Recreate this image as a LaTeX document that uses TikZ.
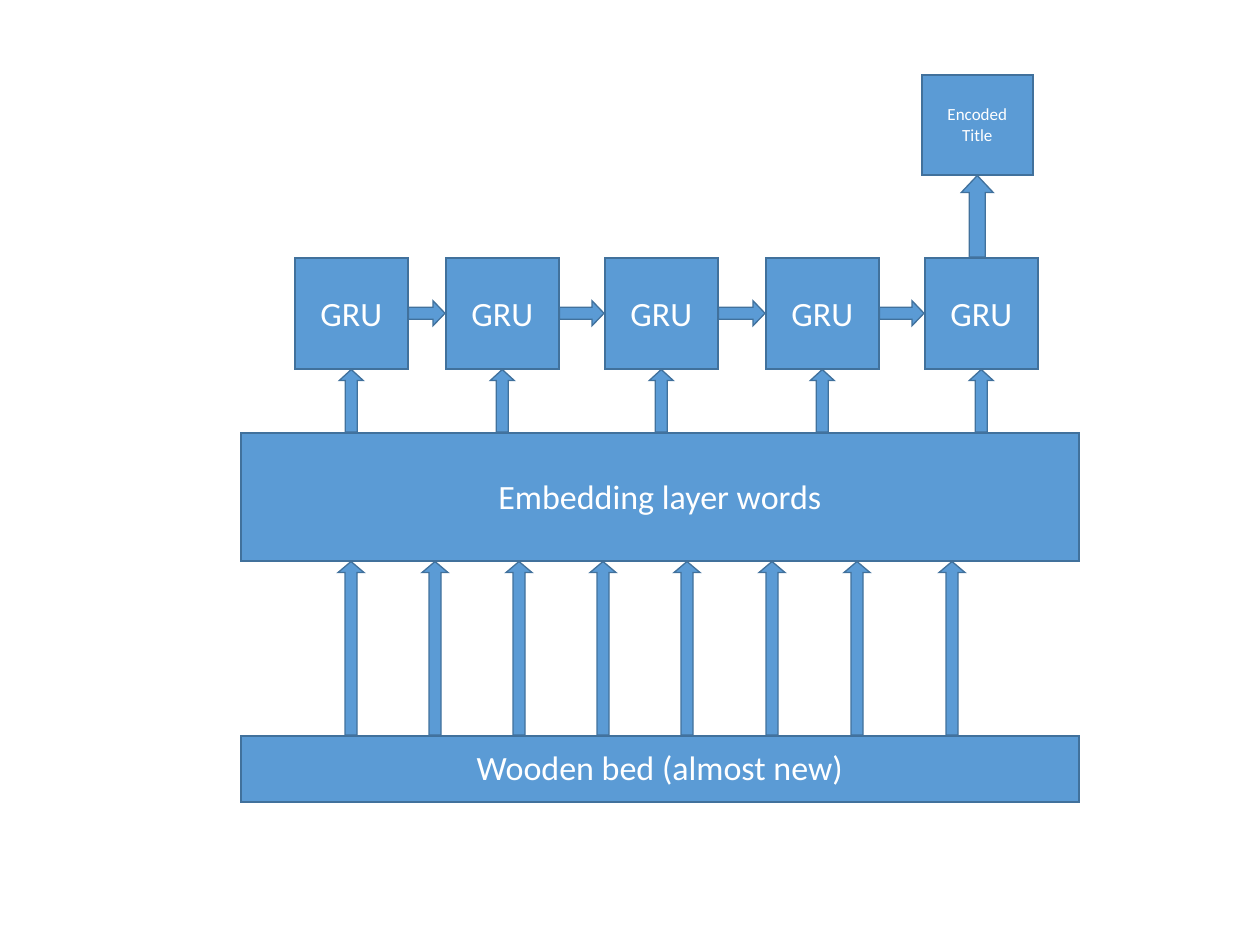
\documentclass[tikz,border=0pt]{standalone}
\usepackage{fontspec}
\setmainfont{Carlito}
\usetikzlibrary{calc}
\definecolor{boxfill}{HTML}{5B9BD5}
\definecolor{boxline}{HTML}{41719C}
\newcommand\lowertext[2]{\raisebox{-#1}[\height][\depth]{#2}}
\tikzset{
  block/.style={draw=boxline, fill=boxfill, line width=1.5pt, text=white, inner sep=0pt, anchor=north west},
  barrow/.style={draw=boxline, fill=boxfill, line width=1.3pt, line join=miter},
  bigtext/.style={font=\fontsize{34}{40}\selectfont},
  smalltext/.style={font=\fontsize{17}{21}\selectfont, align=center}
}
% #1 start, #2 tip, #3 shaft half width, #4 head half width, #5 head length
\newcommand\upblock[5]{%
  \path[barrow] let \p1=(#1), \p2=(#2) in
    (\x1-#3,\y1) -- (\x1-#3,\y2-#5) -- (\x1-#4,\y2-#5) -- (\x1,\y2) --
    (\x1+#4,\y2-#5) -- (\x1+#3,\y2-#5) -- (\x1+#3,\y1) -- cycle;}
\newcommand\rightblock[5]{%
  \path[barrow] let \p1=(#1), \p2=(#2) in
    (\x1,\y1-#3) -- (\x2-#5,\y1-#3) -- (\x2-#5,\y1-#4) -- (\x2,\y1) --
    (\x2-#5,\y1+#4) -- (\x2-#5,\y1+#3) -- (\x1,\y1+#3) -- cycle;}
\begin{document}
\begin{tikzpicture}[x=1pt,y=-1pt]
\useasboundingbox (0,0) rectangle (1253,929);
% boxes
\node[block, minimum width=113pt, minimum height=111pt, bigtext] (g1) at (294,257) {\lowertext{2pt}{GRU}};
\node[block, minimum width=113pt, minimum height=111pt, bigtext] (g2) at (445,257) {\lowertext{2pt}{GRU}};
\node[block, minimum width=113pt, minimum height=111pt, bigtext] (g3) at (604,257) {\lowertext{2pt}{GRU}};
\node[block, minimum width=113pt, minimum height=111pt, bigtext] (g4) at (765,257) {\lowertext{2pt}{GRU}};
\node[block, minimum width=113pt, minimum height=111pt, bigtext] (g5) at (924,257) {\lowertext{2pt}{GRU}};
\node[block, minimum width=111pt, minimum height=100pt, smalltext] (enc) at (921,74) {Encoded\\Title};
\node[block, minimum width=838pt, minimum height=128pt, bigtext] (emb) at (240,432) {\lowertext{4pt}{Embedding layer words}};
\node[block, minimum width=838pt, minimum height=66pt, bigtext] (bed) at (240,735) {\lowertext{2pt}{Wooden bed (almost new)}};
% horizontal arrows
\rightblock{g1.east}{g2.west}{6pt}{12.5pt}{12pt}
\rightblock{g2.east}{g3.west}{6pt}{12.5pt}{12pt}
\rightblock{g3.east}{g4.west}{6pt}{12.5pt}{12pt}
\rightblock{g4.east}{g5.west}{6pt}{12.5pt}{12pt}
% embedding -> GRU
\foreach \g in {g1,g2,g3,g4,g5}{
  \upblock{emb.north -| \g.south}{\g.south}{6pt}{12pt}{11pt}
}
% GRU -> encoded
\upblock{g5.north -| enc.south}{enc.south}{8pt}{16pt}{17pt}
% bed -> embedding
\foreach \i/\xx in {1/351,2/435,3/519,4/603,5/687,6/772,7/857,8/952}{
  \coordinate (b\i) at (\xx,735);
  \upblock{b\i}{emb.south -| b\i}{6pt}{13pt}{11pt}
}
\end{tikzpicture}
\end{document}
